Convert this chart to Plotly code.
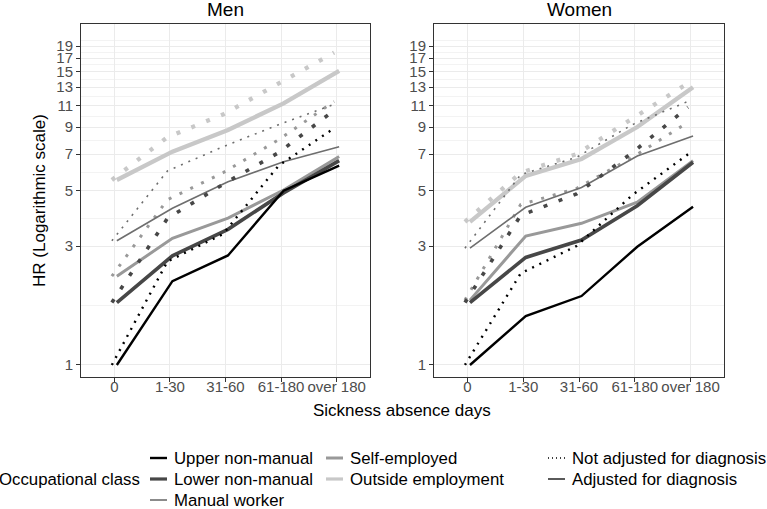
import math
import plotly.graph_objects as go

categories = ['0', '1-30', '31-60', '61-180', 'over 180']
classes = ['Upper non-manual', 'Lower non-manual', 'Manual worker',
           'Self-employed', 'Outside employment']

# Hazard ratios: *_adj = adjusted for diagnosis (solid),
# *_raw = not adjusted for diagnosis (dotted)
men_upper_adj = [1.0, 2.17, 2.75, 5.0, 6.3]
men_upper_raw = [1.0, 2.6, 3.35, 6.3, 8.9]
men_lower_adj = [1.78, 2.74, 3.5, 4.9, 6.6]
men_lower_raw = [1.78, 3.87, 5.3, 7.1, 10.5]
men_manual_adj = [3.15, 4.25, 5.43, 6.53, 7.5]
men_manual_raw = [3.15, 6.0, 7.5, 9.2, 11.1]
men_self_adj = [2.27, 3.22, 3.88, 5.03, 6.85]
men_self_raw = [2.27, 4.6, 5.9, 8.0, 11.4]
men_outside_adj = [5.52, 7.17, 8.76, 11.2, 15.1]
men_outside_raw = [5.52, 8.2, 10.1, 13.4, 17.9]

women_upper_adj = [1.0, 1.57, 1.89, 2.98, 4.31]
women_upper_raw = [1.0, 2.33, 3.0, 4.8, 7.0]
women_lower_adj = [1.78, 2.70, 3.17, 4.35, 6.5]
women_lower_raw = [1.78, 3.98, 4.85, 7.1, 10.8]
women_manual_adj = [2.94, 4.29, 5.15, 6.89, 8.29]
women_manual_raw = [2.94, 5.8, 6.8, 9.2, 11.4]
women_self_adj = [1.82, 3.29, 3.70, 4.5, 6.6]
women_self_raw = [1.82, 4.4, 5.1, 6.8, 9.4]
women_outside_adj = [3.75, 5.73, 6.7, 9.0, 13.0]
women_outside_raw = [3.75, 5.9, 7.0, 9.7, 13.5]

y_ticks = [1, 3, 5, 7, 9, 11, 13, 15, 17, 19]

class_colors = ['#000000', '#474747', '#6e6e6e', '#999999', '#c8c8c8']
class_widths = [2.4, 3.6, 1.6, 3.0, 4.3]

panels = [
    ('Men', '', [men_upper_adj, men_lower_adj, men_manual_adj, men_self_adj, men_outside_adj],
     [men_upper_raw, men_lower_raw, men_manual_raw, men_self_raw, men_outside_raw]),
    ('Women', '2', [women_upper_adj, women_lower_adj, women_manual_adj, women_self_adj, women_outside_adj],
     [women_upper_raw, women_lower_raw, women_manual_raw, women_self_raw, women_outside_raw]),
]

FONT = 'Liberation Sans, Arial, Helvetica, sans-serif'
W, H = 767, 509
L, R, T, B = 81, 43, 24, 132


def px(x):
    return (x - L) / (W - L - R)


def py(y):
    return (H - B - y) / (H - T - B)


fig = go.Figure()

pos = list(range(len(categories)))
for name, ax, adj_list, raw_list in panels:
    # draw light lines first so the dark ones sit on top
    for i in reversed(range(len(classes))):
        w = class_widths[i]
        d = max(1, round(w))
        fig.add_trace(go.Scatter(
            x=[p - 0.045 for p in pos], y=raw_list[i], mode='lines',
            line=dict(color=class_colors[i], width=w, dash=f'{d}px,{3 * d}px'),
            xaxis='x' + ax, yaxis='y' + ax, showlegend=False,
            name=classes[i] + ' (not adjusted)'))
        fig.add_trace(go.Scatter(
            x=[p + 0.045 for p in pos], y=adj_list[i], mode='lines',
            line=dict(color=class_colors[i], width=w),
            xaxis='x' + ax, yaxis='y' + ax, showlegend=False,
            name=classes[i]))

minor_vals = [math.sqrt(a * b) for a, b in zip(y_ticks[:-1], y_ticks[1:])]
minor_vals.append(19 * math.sqrt(19 / 17))

xaxis_style = dict(
    range=[-0.6, 4.6], tickvals=pos, ticktext=categories,
    showgrid=True, gridcolor='#ebebeb', gridwidth=1, zeroline=False,
    showline=True, mirror=True, linecolor='#333333', linewidth=1,
    ticks='outside', ticklen=4, tickcolor='#333333', ticklabelstandoff=-8,
    tickfont=dict(size=15, color='#4d4d4d', family=FONT),
)
yaxis_style = dict(
    type='log', range=[math.log10(0.895), math.log10(23.3)],
    tickvals=y_ticks, ticktext=[str(v) for v in y_ticks],
    showgrid=True, gridcolor='#ebebeb', gridwidth=1, zeroline=False,
    minor=dict(tickvals=minor_vals, showgrid=True, gridcolor='#f3f3f3', gridwidth=0.6, ticks=''),
    showline=True, mirror=True, linecolor='#333333', linewidth=1,
    ticks='outside', ticklen=4, tickcolor='#333333',
    tickfont=dict(size=15, color='#4d4d4d', family=FONT),
)

men_dom = [0, px(370)]
women_dom = [px(434), 1]

fig.update_layout(
    width=W, height=H,
    margin=dict(l=L, r=R, t=T, b=B),
    paper_bgcolor='white', plot_bgcolor='white',
    font=dict(family=FONT, color='black', size=17),
    showlegend=False,
    xaxis=dict(domain=men_dom, anchor='y', **xaxis_style),
    yaxis=dict(domain=[0, 1], anchor='x',
               title=dict(text='HR (Logarithmic scale)', standoff=6,
                          font=dict(size=17, color='black', family=FONT)),
               **yaxis_style),
    xaxis2=dict(domain=women_dom, anchor='y2', **xaxis_style),
    yaxis2=dict(domain=[0, 1], anchor='x2', **yaxis_style),
)

annotations = [
    dict(text='Men', x=px(225.5), y=py(10), font=dict(size=19)),
    dict(text='Women', x=px(579), y=py(10), font=dict(size=19)),
    dict(text='Sickness absence days', x=px(402), y=py(410), font=dict(size=17)),
    dict(text='Occupational class', x=px(142), y=py(479), xanchor='right', font=dict(size=16.8)),
]

# legend keys drawn by hand, ggplot style
shapes = []
key_slots = [(150, 458), (150, 479), (150, 500), (326, 458), (326, 479)]
for i, (kx, ky) in enumerate(key_slots):
    shapes.append(dict(type='line', xref='paper', yref='paper',
                       x0=px(kx), x1=px(kx + 17), y0=py(ky), y1=py(ky),
                       line=dict(color=class_colors[i], width=min(class_widths[i], 3.2))))
    annotations.append(dict(text=classes[i], x=px(kx + 22), y=py(ky), xanchor='left',
                            font=dict(size=16.8)))

line_types = ['Not adjusted for diagnosis', 'Adjusted for diagnosis']
for j, (label, dash) in enumerate(zip(line_types, ['1px,3px', 'solid'])):
    ky = 458 + 21 * j
    shapes.append(dict(type='line', xref='paper', yref='paper',
                       x0=px(548), x1=px(565), y0=py(ky), y1=py(ky),
                       line=dict(color='black', width=1.3, dash=dash)))
    annotations.append(dict(text=label, x=px(570), y=py(ky), xanchor='left',
                            font=dict(size=16.8)))

for a in annotations:
    a.update(xref='paper', yref='paper', showarrow=False, yanchor='middle')
    a.setdefault('xanchor', 'center')
    a['font'].update(color='black', family=FONT)

fig.update_layout(annotations=annotations, shapes=shapes)

# page body margin would shift the figure by 8px
fig.write_html('out.html', config={'displayModeBar': False},
               post_script="document.body.style.margin='0';")
